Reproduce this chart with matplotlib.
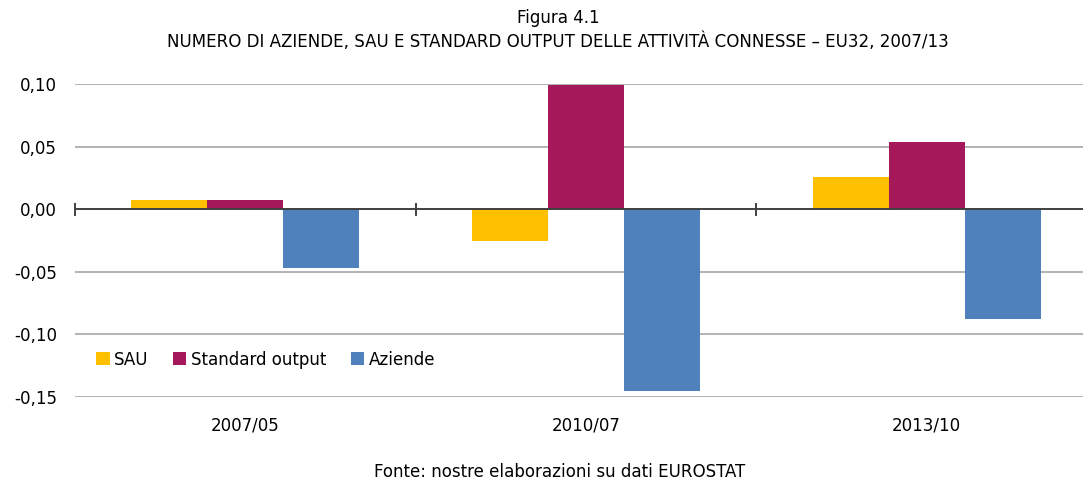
import matplotlib
matplotlib.use("Agg")
import matplotlib.pyplot as plt
from matplotlib import font_manager
from matplotlib.font_manager import FontProperties
import numpy as np

categories = ["2007/05", "2010/07", "2013/10"]
series_names = ["SAU", "Standard output", "Aziende"]
sau = [0.0075, -0.025, 0.026]
standard_output = [0.0075, 0.0995, 0.054]
aziende = [-0.047, -0.1455, -0.0875]
yticks = [-0.15, -0.10, -0.05, 0.0, 0.05, 0.10]
colors = ["#FFC000", "#A5195A", "#4F81BD"]

# look for a narrow / condensed sans face; otherwise Liberation Sans
narrow = None
for f in font_manager.fontManager.ttflist:
    n = (f.name + " " + f.fname).lower()
    if ("narrow" in n or "condensed" in n) and "bold" not in n and "italic" not in n \
            and "oblique" not in n and "semi" not in n and "light" not in n \
            and "medium" not in n and "black" not in n and "thin" not in n:
        if narrow is None or "liberation" in n or "arial" in n:
            narrow = f.fname
if narrow:
    fp = FontProperties(fname=narrow, size=13.3)
else:
    fp = FontProperties(family=["Liberation Sans", "DejaVu Sans"], size=12.5)
plt.rcParams["font.family"] = ["Liberation Sans", "DejaVu Sans"]

fig = plt.figure(figsize=(10.87, 4.83), dpi=100)
ax = fig.add_axes([75/1087, (483-397)/483, (1083-75)/1087, (397-84)/483])

x = np.arange(len(categories))
w = 0.223
for i, (vals, name) in enumerate(zip([sau, standard_output, aziende], series_names)):
    ax.bar(x + (i - 1) * w, vals, width=w, color=colors[i], label=name, zorder=3)

ax.set_ylim(-0.15, 0.10)
ax.set_xlim(-0.5, 2.5 - 14/341)
ax.set_yticks(yticks)
ax.set_yticklabels([f"{v:.2f}".replace(".", ",") for v in yticks], fontproperties=fp)
for v in yticks:
    if v != 0:
        ax.axhline(v, color="#A6A6A6", lw=1.2, zorder=1)
ax.axhline(0, color="#404040", lw=1.4, zorder=4)
for b in [-0.5, 0.5, 1.5]:
    ax.plot([b, b], [-0.0045, 0.0045], color="#404040", lw=1.4, zorder=4, clip_on=False)

for s in ax.spines.values():
    s.set_visible(False)
ax.tick_params(axis="y", length=0, pad=13)
ax.tick_params(axis="x", length=0, pad=14)
ax.set_xticks(x)
ax.set_xticklabels(categories, fontproperties=fp)

ax.legend(loc="upper left", bbox_to_anchor=(0.004, 0.2), ncol=3, frameon=False,
          prop=fp, handlelength=0.75, handleheight=0.75, handletextpad=0.25,
          columnspacing=1.3)

fig.text(0.5135, 0.962, "Figura 4.1", ha="center", va="center", fontproperties=fp)
fig.text(0.5135, 0.913, "NUMERO DI AZIENDE, SAU E STANDARD OUTPUT DELLE ATTIVITÀ CONNESSE – EU32, 2007/13",
         ha="center", va="center", fontproperties=fp)
fig.text(0.515, 0.022, "Fonte: nostre elaborazioni su dati EUROSTAT", ha="center", va="center",
         fontproperties=fp)

fig.savefig("out.png", dpi=100)
